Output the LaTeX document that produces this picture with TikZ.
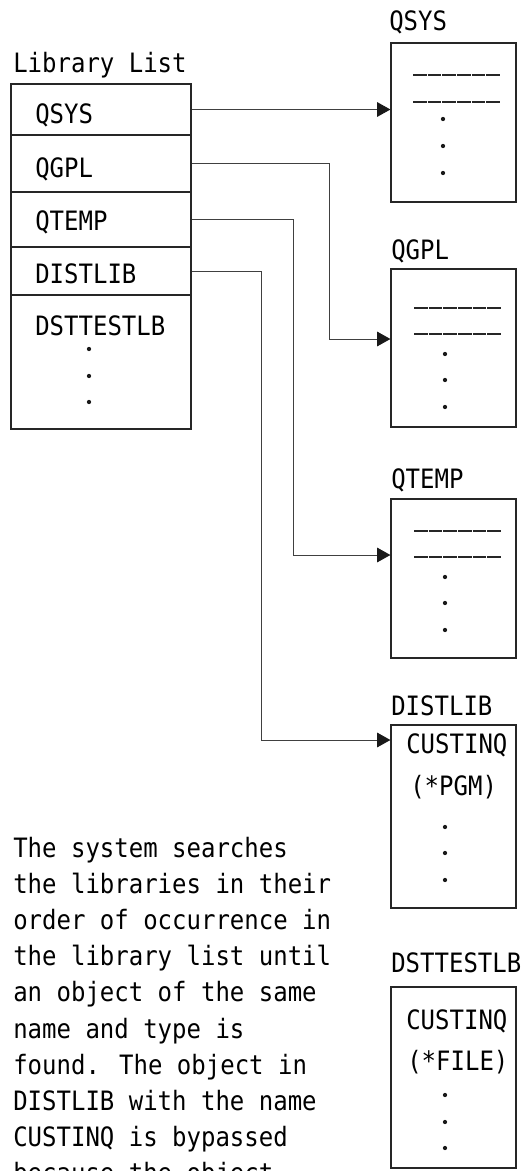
\documentclass[tikz,border=0pt]{standalone}
\usepackage{fontspec}
\setmainfont{DejaVu Sans Mono}[FakeStretch=0.9]
\usetikzlibrary{fit,arrows.meta}
\tikzset{
  txt/.style={anchor=base west, inner sep=0pt, font=\fontsize{20pt}{24pt}\selectfont, text=black},
  cell/.style={draw=black!85, line width=0.9pt, inner sep=0pt},
  conn/.style={draw=black!75, line width=0.7pt, -{Triangle[length=10pt,width=11pt,color=black!90]}},
  bar/.style={draw=black!85, line width=1.3pt, dash pattern=on 10.25pt off 0.75pt},
  dotmark/.style={fill=black!90}
}
\begin{document}
\begin{tikzpicture}[x=0.75pt,y=-0.75pt]
\clip (0,0) rectangle (524,1171);
\fill[white] (0,0) rectangle (524,1171);

% Library list
\node[txt] (ltitle) at (13,72) {Library List};
\node[cell, fit={(11,84) (191,135)}] (r1) {};
\node[cell, fit={(11,135) (191,192)}] (r2) {};
\node[cell, fit={(11,192) (191,247)}] (r3) {};
\node[cell, fit={(11,247) (191,295)}] (r4) {};
\node[cell, fit={(11,295) (191,429)}] (r5) {};
\node[txt] (t1) at (35,123) {QSYS};
\node[txt] (t2) at (35,177) {QGPL};
\node[txt] (t3) at (35,230) {QTEMP};
\node[txt] (t4) at (35,283) {DISTLIB};
\node[txt] (t5) at (35,335) {DSTTESTLB};
\foreach \y in {349,376,402} \fill[dotmark] (89,\y) circle[radius=1.6pt];

% Right libraries
\node[txt] (h1) at (389,30) {QSYS};
\node[cell, fit={(391,43) (516,202)}] (b1) {};
\draw[bar] (413,74.7) -- (501,74.7);
\draw[bar] (413,101.7) -- (501,101.7);
\foreach \y in {119,146,173} \fill[dotmark] (443,\y) circle[radius=1.6pt];

\node[txt] (h2) at (391,259) {QGPL};
\node[cell, fit={(391,269) (516,427)}] (b2) {};
\draw[bar] (414,308) -- (502,308);
\draw[bar] (414,334) -- (502,334);
\foreach \y in {354,380,407} \fill[dotmark] (445,\y) circle[radius=1.6pt];

\node[txt] (h3) at (391,488) {QTEMP};
\node[cell, fit={(391,499) (516,658)}] (b3) {};
\draw[bar] (414,531) -- (502,531);
\draw[bar] (414,557) -- (502,557);
\foreach \y in {577,603,630} \fill[dotmark] (445,\y) circle[radius=1.6pt];

\node[txt] (h4) at (391,715) {DISTLIB};
\node[cell, fit={(391,725) (516,908)}] (b4) {};
\node[txt] (c4a) at (406,753) {CUSTINQ};
\node[txt] (c4b) at (410,795) {(*PGM)};
\foreach \y in {827,853,880} \fill[dotmark] (445,\y) circle[radius=1.6pt];

\node[txt] (h5) at (391,972) {DSTTESTLB};
\node[cell, fit={(391,987) (516,1168)}] (b5) {};
\node[txt] (c5a) at (406,1029) {CUSTINQ};
\node[txt] (c5b) at (407,1070) {(*FILE)};
\foreach \y in {1095,1122,1148} \fill[dotmark] (445,\y) circle[radius=1.6pt];

% Connectors
\coordinate (k2) at (329,339);
\coordinate (k3) at (293,555);
\coordinate (k4) at (261,740);
\draw[conn] (r1.east) -- (r1.east -| b1.west);
\draw[conn] (r2.east) -| (k2) -- (k2 -| b2.west);
\draw[conn] (r3.east) -| (k3) -- (k3 -| b3.west);
\draw[conn] (r4.east) -| (k4) -- (k4 -| b4.west);

% Explanation text
\foreach \s [count=\i] in {The system searches,the libraries in their,order of occurrence in,the library list until,an object of the same,name and type is,found. The object in,DISTLIB with the name,CUSTINQ is bypassed,because the object}
  \node[txt] (p\i) at (13,{857+36.2*(\i-1)}) {\s};
\end{tikzpicture}
\end{document}
